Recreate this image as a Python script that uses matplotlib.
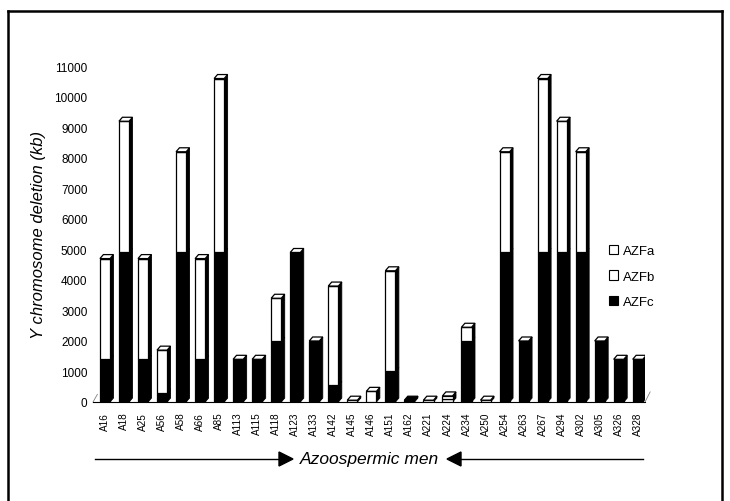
import numpy as np
import matplotlib.pyplot as plt
from matplotlib.patches import Polygon, Patch
from matplotlib.lines import Line2D

# --- Données ---
patients = ['A16', 'A18', 'A25', 'A56', 'A58', 'A66', 'A85', 'A113', 'A115', 'A118',
            'A123', 'A133', 'A142', 'A145', 'A146', 'A151', 'A162', 'A221', 'A224', 'A234',
            'A250', 'A254', 'A263', 'A267', 'A294', 'A302', 'A305', 'A326', 'A328']
azfc = [1400, 4900, 1400, 300, 4900, 1400, 4900, 1400, 1400, 2000,
        4900, 2000, 550, 0, 0, 1000, 60, 0, 0, 2000,
        0, 4900, 2000, 4900, 4900, 4900, 2000, 1400, 1400]
azfb = [3300, 4300, 3300, 1400, 3300, 3300, 5700, 0, 0, 1400,
        0, 0, 3250, 0, 350, 3300, 0, 0, 100, 450,
        0, 3300, 0, 5700, 4300, 3300, 0, 0, 0]
azfa = [0, 0, 0, 0, 0, 0, 0, 0, 0, 0,
        0, 0, 0, 60, 0, 0, 0, 60, 100, 0,
        60, 0, 0, 0, 0, 0, 0, 0, 0]
yticks = [0, 1000, 2000, 3000, 4000, 5000, 6000, 7000, 8000, 9000, 10000, 11000]

plt.rcParams['font.family'] = ['Liberation Sans', 'DejaVu Sans']

W, H = 730, 502
fig = plt.figure(figsize=(W / 100, H / 100), dpi=100)
ax = fig.add_axes([93 / W, (H - 403) / H, 552 / W, (403 - 67.3) / H])

x = np.arange(len(patients))
w = 0.53      # largeur face avant
dx = 0.18     # profondeur (unités de catégorie)
dy = 130      # profondeur (unités de données)

series = [(azfc, 'black'), (azfb, 'white'), (azfa, 'white')]
bottom = np.zeros(len(patients))
for vals, col in series:
    vals = np.array(vals, dtype=float)
    ax.bar(x, vals, width=w, bottom=bottom, color=col, edgecolor='black', linewidth=0.9, zorder=3)
    for i in range(len(x)):
        if vals[i] > 0:
            y0, y1 = bottom[i], bottom[i] + vals[i]
            xr = x[i] + w / 2
            # face latérale
            ax.add_patch(Polygon([(xr, y0), (xr + dx, y0 + dy), (xr + dx, y1 + dy), (xr, y1)],
                                 closed=True, facecolor='black', edgecolor='black', lw=0.6, zorder=2))
    bottom = bottom + vals

# couvercles (blancs, sauf barre AZFc minuscule)
for i in range(len(x)):
    T = bottom[i]
    col = 'black' if (T < 100 and azfc[i] > 0) else 'white'
    xl, xr = x[i] - w / 2, x[i] + w / 2
    ax.add_patch(Polygon([(xl, T), (xl + dx, T + dy), (xr + dx, T + dy), (xr, T)],
                         closed=True, facecolor=col, edgecolor='black', lw=0.9, zorder=4))

ax.set_xlim(-0.63, 28.38)
ax.set_ylim(0, 11000)
ax.set_yticks(yticks)
ax.set_yticklabels([str(v) for v in yticks], fontsize=8.5)
ax.set_xticks(x)
ax.set_xticklabels(patients, rotation=90, fontsize=7.2)
ax.tick_params(axis='y', length=0, pad=4)
ax.tick_params(axis='x', length=0, pad=7)
for s in ['top', 'right', 'left']:
    ax.spines[s].set_visible(False)
ax.spines['bottom'].set_linewidth(0.8)
ax.set_ylabel('Y chromosome deletion (kb)', fontsize=12, style='italic', labelpad=6)

# petites lignes obliques du "plancher"
ax.plot([-0.63, -0.4], [0, 250], color='grey', lw=0.6, clip_on=False)
ax.plot([28.38, 28.65], [0, 330], color='grey', lw=0.6, clip_on=False)

# légende
handles = [Patch(facecolor='white', edgecolor='black', lw=0.8, label='AZFa'),
           Patch(facecolor='white', edgecolor='black', lw=0.8, label='AZFb'),
           Patch(facecolor='black', edgecolor='black', lw=0.8, label='AZFc')]
fig.legend(handles=handles, loc='upper left', bbox_to_anchor=(597 / W, 1 - 234 / H),
           frameon=False, fontsize=9.5, handlelength=0.7, handleheight=0.7,
           handletextpad=0.4, labelspacing=1.0)

# flèches "Azoospermic men"
ya = 1 - 460 / H
fig.add_artist(Line2D([95 / W, 280 / W], [ya, ya], color='black', lw=1))
fig.add_artist(Line2D([461 / W, 643 / W], [ya, ya], color='black', lw=1))
fig.add_artist(Polygon([(279 / W, ya + 7 / H), (293 / W, ya), (279 / W, ya - 7 / H)],
                       closed=True, facecolor='black', edgecolor='black', transform=fig.transFigure))
fig.add_artist(Polygon([(461 / W, ya + 7 / H), (447 / W, ya), (461 / W, ya - 7 / H)],
                       closed=True, facecolor='black', edgecolor='black', transform=fig.transFigure))
fig.text(369 / W, ya, 'Azoospermic men', ha='center', va='center', fontsize=12.5, style='italic')

# cadre
fig.add_artist(Line2D([8 / W, 8 / W], [0, 1 - 12 / H], color='black', lw=1.8))
fig.add_artist(Line2D([8 / W, 722 / W], [1 - 12 / H, 1 - 12 / H], color='black', lw=1.8))
fig.add_artist(Line2D([722 / W, 722 / W], [0, 1 - 12 / H], color='black', lw=1.8))

fig.savefig('out.png', dpi=100)
